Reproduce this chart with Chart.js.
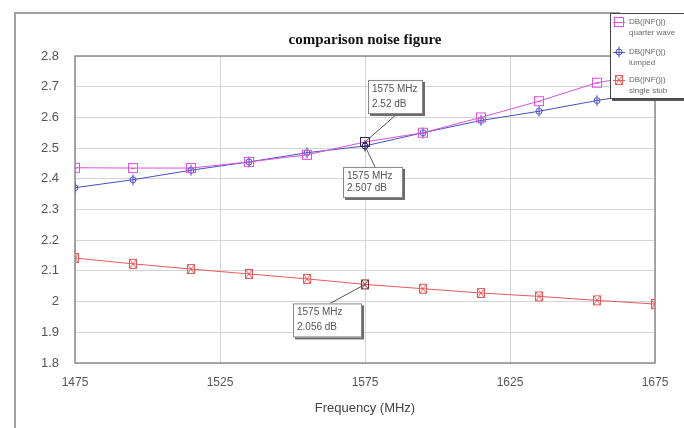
<!DOCTYPE html>
<html>
<head>
<meta charset="utf-8">
<script src="https://cdn.jsdelivr.net/npm/chart.js@4"></script>
<style>
  html, body { margin: 0; padding: 0; background: #fff; }
  #wrap { width: 684px; height: 428px; position: relative; }
</style>
</head>
<body>
<div id="wrap"><canvas id="myChart" width="684" height="428"></canvas></div>
<script>
// data
var freq = [1475, 1495, 1515, 1535, 1555, 1575, 1595, 1615, 1635, 1655, 1675];
var quarterWave = [2.436, 2.435, 2.435, 2.455, 2.478, 2.52, 2.55, 2.60, 2.653, 2.713, 2.745];
var lumped = [2.371, 2.397, 2.428, 2.455, 2.485, 2.507, 2.55, 2.59, 2.62, 2.655, 2.685];
var singleStub = [2.142, 2.123, 2.106, 2.09, 2.074, 2.056, 2.042, 2.028, 2.017, 2.004, 1.992];
var xTicks = [1475, 1525, 1575, 1625, 1675];
var markerFreq = 1575;

var magenta = "#dc52dc", blue = "#4650c4", red = "#e65a5a";

// little marker images, like the ones in the original plot
function squareMarker(col) {
  var c = document.createElement('canvas'); c.width = 12; c.height = 12;
  var g = c.getContext('2d');
  g.strokeStyle = col; g.lineWidth = 1;
  g.strokeRect(1.5, 1.5, 9, 9);
  g.beginPath(); g.moveTo(4, 6.5); g.lineTo(8, 6.5); g.stroke();
  return c;
}
function circleMarker(col) {
  var c = document.createElement('canvas'); c.width = 12; c.height = 12;
  var g = c.getContext('2d');
  g.strokeStyle = col; g.lineWidth = 1;
  g.beginPath(); g.arc(6, 6, 3, 0, Math.PI * 2); g.stroke();
  g.beginPath(); g.moveTo(6, 0.5); g.lineTo(6, 11.5); g.stroke();
  return c;
}
function hourglassMarker(col) {
  var c = document.createElement('canvas'); c.width = 10; c.height = 12;
  var g = c.getContext('2d');
  g.strokeStyle = col; g.lineWidth = 1;
  g.strokeRect(1.5, 1.5, 7, 9);
  g.beginPath(); g.moveTo(1.5, 1.5); g.lineTo(8.5, 10.5); g.moveTo(8.5, 1.5); g.lineTo(1.5, 10.5); g.stroke();
  return c;
}
function styles(fn, col, dark) {
  return freq.map(function (f) { return f === markerFreq ? fn(dark) : fn(col); });
}

var mkQ = squareMarker(magenta), mkL = circleMarker(blue), mkS = hourglassMarker(red);

function pts(vals) {
  return freq.map(function (f, i) { return { x: f, y: vals[i] }; });
}

// frame, plot border, title
var decor = {
  id: 'decor',
  beforeDraw: function (chart) {
    var ctx = chart.ctx, a = chart.chartArea;
    ctx.save();
    ctx.fillStyle = '#fff';
    ctx.fillRect(0, 0, chart.width, chart.height);
    ctx.strokeStyle = '#a0a0a0'; ctx.lineWidth = 2;
    ctx.beginPath();
    ctx.moveTo(15, 430); ctx.lineTo(15, 13); ctx.lineTo(620, 13);
    ctx.stroke();
    ctx.fillStyle = '#111';
    ctx.font = 'bold 15px "Liberation Serif", "DejaVu Serif", serif';
    ctx.textAlign = 'center'; ctx.textBaseline = 'middle';
    ctx.fillText('comparison noise figure', (a.left + a.right) / 2, 40);
    ctx.restore();
  },
  beforeDatasetsDraw: function (chart) {
    var ctx = chart.ctx, a = chart.chartArea;
    ctx.save();
    ctx.strokeStyle = '#8c8c8c'; ctx.lineWidth = 1.5;
    ctx.strokeRect(a.left, a.top, a.right - a.left, a.bottom - a.top);
    ctx.restore();
  },
  afterDraw: function (chart) {
    var ctx = chart.ctx;
    var xs = chart.scales.x, ys = chart.scales.y;
    var i = freq.indexOf(markerFreq);
    var px = xs.getPixelForValue(markerFreq);

    function box(x, y, w, h, lines, lx, ly, py) {
      ctx.strokeStyle = '#555'; ctx.lineWidth = 1;
      ctx.beginPath(); ctx.moveTo(px, py); ctx.lineTo(lx, ly); ctx.stroke();
      ctx.fillStyle = '#6a6a6a';
      ctx.fillRect(x + 2, y + 2, w, h);
      ctx.fillStyle = '#fff';
      ctx.fillRect(x, y, w, h);
      ctx.strokeStyle = '#888';
      ctx.strokeRect(x + 0.5, y + 0.5, w - 1, h - 1);
      ctx.fillStyle = '#555';
      ctx.font = '10px "Liberation Sans", Arial, sans-serif';
      ctx.textAlign = 'left'; ctx.textBaseline = 'middle';
      ctx.fillText(lines[0], x + 4, y + 9);
      ctx.fillText(lines[1], x + 4, y + h - 10);
    }
    ctx.save();
    var p1 = ys.getPixelForValue(quarterWave[i]);
    box(px + 3, p1 - 62, 55, 34, [markerFreq + ' MHz', quarterWave[i] + ' dB'], px + 32, p1 - 28, p1);
    var p2 = ys.getPixelForValue(lumped[i]);
    box(px - 22, p2 + 21, 60, 31, [markerFreq + ' MHz', lumped[i] + ' dB'], px + 10, p2 + 21, p2);
    var p3 = ys.getPixelForValue(singleStub[i]);
    box(px - 72, p3 + 19, 69, 34, [markerFreq + ' MHz', singleStub[i] + ' dB'], px - 35, p3 + 19, p3);

    // legend box in the top right corner
    ctx.fillStyle = '#555';
    ctx.fillRect(612, 15, 80, 86);
    ctx.fillStyle = '#fff';
    ctx.fillRect(610, 13, 80, 86);
    ctx.strokeStyle = '#444'; ctx.lineWidth = 1;
    ctx.strokeRect(610.5, 13.5, 80, 85);
    var items = [
      { mk: mkQ, col: magenta, a: 'DB(|NF()|)', b: 'quarter wave', y: 22 },
      { mk: mkL, col: blue, a: 'DB(|NF()|)', b: 'lumped', y: 52 },
      { mk: mkS, col: red, a: 'DB(|NF()|)', b: 'single stub', y: 80 }
    ];
    ctx.font = '8px "Liberation Sans", Arial, sans-serif';
    ctx.textAlign = 'left'; ctx.textBaseline = 'middle';
    items.forEach(function (it) {
      ctx.strokeStyle = it.col;
      ctx.beginPath(); ctx.moveTo(613, it.y + 0.5); ctx.lineTo(625, it.y + 0.5); ctx.stroke();
      ctx.drawImage(it.mk, 619 - it.mk.width / 2, it.y - it.mk.height / 2);
      ctx.fillStyle = '#666';
      ctx.fillText(it.a, 629, it.y);
      ctx.fillText(it.b, 629, it.y + 11);
    });
    ctx.restore();
  }
};

new Chart("myChart", {
  type: "line",
  data: {
    datasets: [{
      label: 'quarter wave',
      data: pts(quarterWave),
      borderColor: magenta,
      borderWidth: 1,
      pointStyle: styles(squareMarker, magenta, '#3a2060'),
      pointRadius: 6
    }, {
      label: 'lumped',
      data: pts(lumped),
      borderColor: blue,
      borderWidth: 1,
      pointStyle: styles(circleMarker, blue, '#201850'),
      pointRadius: 6
    }, {
      label: 'single stub',
      data: pts(singleStub),
      borderColor: red,
      borderWidth: 1,
      pointStyle: styles(hourglassMarker, red, '#8a2a2a'),
      pointRadius: 6
    }]
  },
  options: {
    responsive: false,
    animation: false,
    devicePixelRatio: 1,
    layout: { padding: { left: 15, top: 56, right: 29, bottom: 0 } },
    plugins: {
      legend: { display: false },
      title: { display: false },
      tooltip: { enabled: false }
    },
    scales: {
      x: {
        type: 'linear',
        min: 1475, max: 1675,
        afterBuildTicks: function (s) { s.ticks = xTicks.map(function (v) { return { value: v }; }); },
        afterFit: function (s) { s.height = 65; },
        grid: { color: '#d4d4d4', drawTicks: false },
        border: { display: false },
        ticks: {
          color: '#555', padding: 12, maxRotation: 0,
          font: { family: '"Liberation Sans", Arial, sans-serif', size: 12 },
          callback: function (v) { return String(v); }
        },
        title: { display: true, text: 'Frequency (MHz)', color: '#444', padding: { top: 0, bottom: 12 }, font: { family: '"Liberation Sans", Arial, sans-serif', size: 13 } }
      },
      y: {
        min: 1.8, max: 2.8,
        afterFit: function (s) { s.width = 60; },
        grid: { color: '#d4d4d4', drawTicks: false },
        border: { display: false },
        ticks: {
          stepSize: 0.1, color: '#555', padding: 16,
          font: { family: '"Liberation Sans", Arial, sans-serif', size: 13 },
          callback: function (v) { return String(Math.round(v * 10) / 10); }
        }
      }
    }
  },
  plugins: [decor]
});
</script>
</body>
</html>
